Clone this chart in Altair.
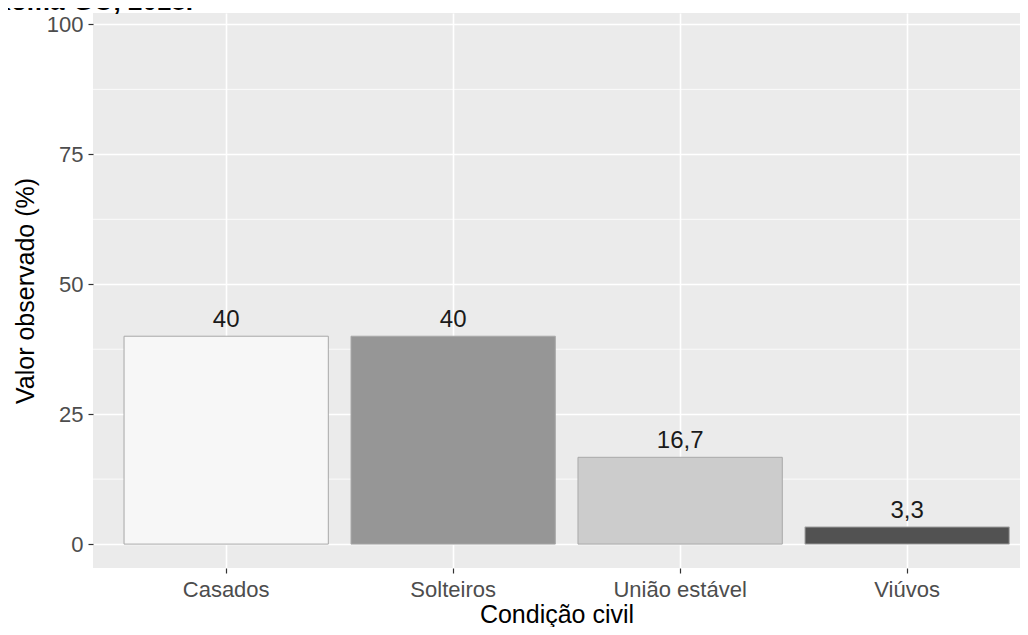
import altair as alt
import pandas as pd

categories = ["Casados", "Solteiros", "União estável", "Viúvos"]
values = [40, 40, 16.7, 3.3]
labels = ["40", "40", "16,7", "3,3"]
fills = ["#f7f7f7", "#969696", "#cccccc", "#525252"]
y_ticks = [0, 25, 50, 75, 100]
y_minor = [12.5, 37.5, 62.5, 87.5]
title_text = "Roma-GO, 2018."

df = pd.DataFrame({"cat": categories, "val": values, "lab": labels})
minor_df = pd.DataFrame({"v": y_minor})
title_df = pd.DataFrame({"t": [title_text]})

FONT = "Liberation Sans"

x_enc = alt.X(
    "cat:N",
    sort=categories,
    title="Condição civil",
    scale=alt.Scale(paddingInner=0.1, paddingOuter=0.092, align=0.743),
    axis=alt.Axis(
        labelFontSize=22, labelColor="#4d4d4d", labelFont=FONT, labelAngle=0,
        labelPadding=6, tickColor="#333333", tickSize=5, tickWidth=1.2,
        domain=False, grid=True, gridColor="white", gridWidth=1.6,
        bandPosition=0.5, titleFontSize=25, titleFont=FONT, titleColor="#000000",
        titleFontWeight="normal", titleBaseline="alphabetic", titleY=54,
    ),
)
y_scale = alt.Scale(domain=[-4.6, 102.2], nice=False, zero=False)
y_enc = alt.Y(
    "val:Q",
    title="Valor observado (%)",
    scale=y_scale,
    axis=alt.Axis(
        values=y_ticks, labelFontSize=22, labelColor="#4d4d4d", labelFont=FONT,
        labelPadding=5, tickColor="#333333", tickSize=5, tickWidth=1.2,
        domain=False, grid=True, gridColor="white", gridWidth=1.6,
        titleFontSize=25, titleFont=FONT, titleColor="#000000",
        titleFontWeight="normal", titleBaseline="alphabetic", titleX=-60,
    ),
)

minor = alt.Chart(minor_df).mark_rule(color="white", strokeWidth=0.8).encode(
    y=alt.Y("v:Q", scale=y_scale)
)

bars = alt.Chart(df).mark_bar(stroke="#a8a8a8", strokeWidth=1).encode(
    x=x_enc,
    y=y_enc,
    fill=alt.Fill("cat:N", scale=alt.Scale(domain=categories, range=fills), legend=None),
)

texts = alt.Chart(df).mark_text(
    fontSize=24, font=FONT, color="#1a1a1a", baseline="alphabetic", dy=-9
).encode(
    x=alt.X("cat:N", sort=categories),
    y="val:Q",
    text="lab:N",
)

title_mark = alt.Chart(title_df).mark_text(
    fontSize=26, font=FONT, fontWeight="bold", color="#000000",
    align="right", baseline="alphabetic"
).encode(
    text="t:N", x=alt.value(100), y=alt.value(-3)
)

chart = alt.layer(minor, bars, texts, title_mark).properties(
    width=927, height=555,
    padding={"left": 85, "top": 5, "right": 0, "bottom": 59},
    autosize=alt.AutoSizeParams(type="none"),
).configure_view(fill="#ebebeb", strokeWidth=0)

chart.save("out.html", embed_options={"renderer": "svg", "actions": False})
